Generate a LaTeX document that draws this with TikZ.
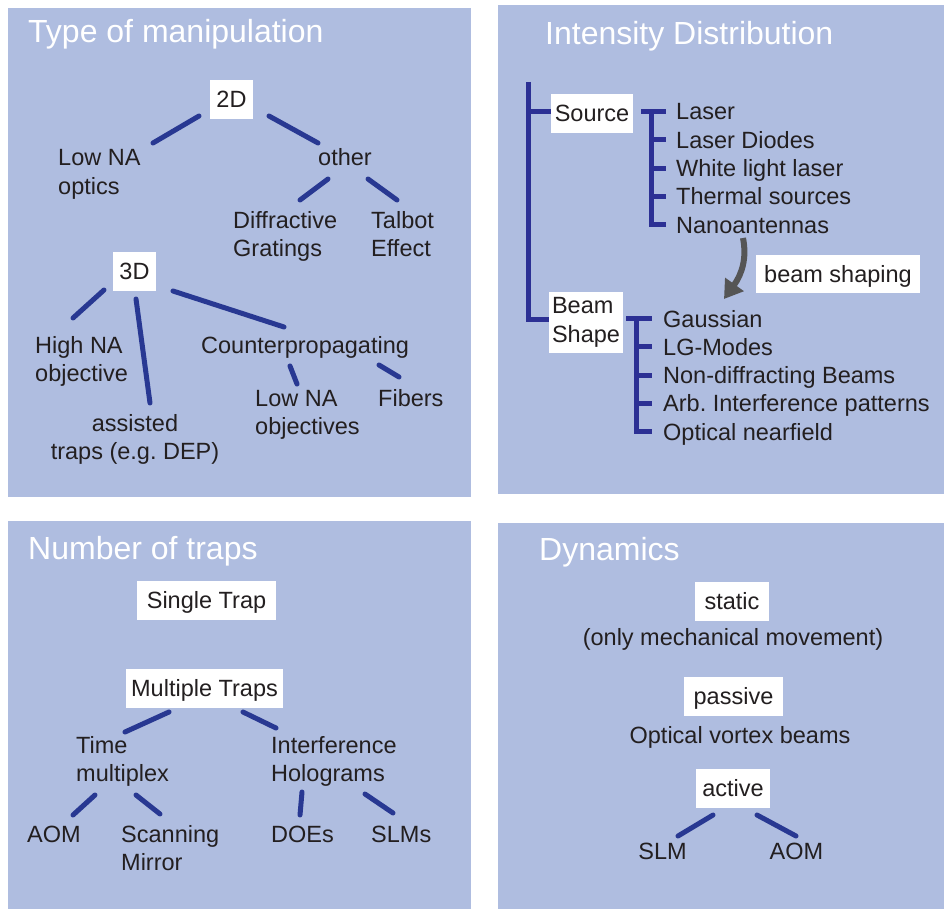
\documentclass[tikz,border=0pt]{standalone}
\usepackage{fontspec}
\setmainfont{Liberation Sans}
\usetikzlibrary{arrows.meta}
\frenchspacing

\definecolor{panelbg}{RGB}{175,189,224}
\definecolor{treeline}{RGB}{40,56,146}
\definecolor{bracketline}{RGB}{44,48,148}
\definecolor{textdark}{RGB}{35,31,32}
\definecolor{arrowgray}{RGB}{85,85,85}

\tikzset{
  panel/.style={fill=panelbg, draw=none},
  paneltitle/.style={anchor=base west, inner sep=0pt, text=white,
    font=\fontsize{32}{38}\selectfont},
  % multi-line labels are placed by the baseline of their last line
  lbl/.style={anchor=base west, inner sep=0pt, text=textdark, align=left,
    font=\fontsize{23.5}{28.3}\selectfont},
  clbl/.style={anchor=base, inner sep=0pt, text=textdark, align=center,
    font=\fontsize{23.5}{28.3}\selectfont},
  wbox/.style={fill=white, inner sep=0pt, text=textdark, align=center,
    text height=16.5pt, text depth=0pt, minimum height=39pt,
    font=\fontsize{23.5}{28.3}\selectfont},
  wboxtwo/.style={fill=white, inner sep=0pt, text=textdark, align=left,
    font=\fontsize{23.5}{28.3}\selectfont},
  link/.style={treeline, line width=5pt, line cap=round},
  brk/.style={bracketline, line width=5pt, line cap=butt, line join=miter},
  bendarrow/.style={arrowgray, line width=6pt,
    -{Triangle[width=22pt,length=18pt]}},
}

\begin{document}
\begin{tikzpicture}[x=1pt,y=-1pt]
\useasboundingbox (0,0) rectangle (944,909);
\fill[white] (0,0) rectangle (944,909);

% ---------------- Type of manipulation ----------------
\fill[panel] (8,8) rectangle (471,497);
\node[paneltitle] (t1) at (28,43) {Type of manipulation};

\node[wbox, minimum width=43pt] (n2d) at (231.5,99.5) {2D};
\node[lbl] (lowna) at (58,194.3) {Low NA\\optics};
\node[lbl] (other) at (318,166) {other};
\node[lbl] (diffr) at (233,256.3) {Diffractive\\Gratings};
\node[lbl] (talbot) at (371,256.3) {Talbot\\Effect};

\node[wbox, minimum width=43pt] (n3d) at (134.5,271.5) {3D};
\node[lbl] (highna) at (35,381.3) {High NA\\objective};
\node[clbl] (assisted) at (135,459.3) {assisted\\traps (e.g. DEP)};
\node[lbl] (counter) at (201,353) {Counterpropagating};
\node[lbl] (lowobj) at (255,434.3) {Low NA\\objectives};
\node[lbl] (fibers) at (378,406) {Fibers};

\coordinate (a1) at (199,116); \coordinate (a2) at (153,143);
\coordinate (b1) at (269,116); \coordinate (b2) at (318,143);
\coordinate (c1) at (328,179); \coordinate (c2) at (300,200);
\coordinate (d1) at (368,179); \coordinate (d2) at (397,200);
\coordinate (e1) at (104,290); \coordinate (e2) at (73,318);
\coordinate (f1) at (136,299); \coordinate (f2) at (150,403);
\coordinate (g1) at (173,291); \coordinate (g2) at (284,327);
\coordinate (h1) at (290,366); \coordinate (h2) at (297,384);
\coordinate (i1) at (379,365); \coordinate (i2) at (399,377);
\draw[link] (a1) -- (a2);
\draw[link] (b1) -- (b2);
\draw[link] (c1) -- (c2);
\draw[link] (d1) -- (d2);
\draw[link] (e1) -- (e2);
\draw[link] (f1) -- (f2);
\draw[link] (g1) -- (g2);
\draw[link] (h1) -- (h2);
\draw[link] (i1) -- (i2);

% ---------------- Intensity Distribution ----------------
\fill[panel] (498,5) rectangle (944,494);
\node[paneltitle] (t2) at (545,45) {Intensity Distribution};

\node[wbox, minimum width=82pt] (source) at (592,113.5) {Source};
\node[wboxtwo, minimum width=74pt, minimum height=61pt] (beamshape) at (586,322.5) {Beam\\Shape};
\node[wbox, minimum width=164pt, minimum height=38pt] (shaping) at (838,274) {beam shaping};

% main bracket joining the two groups
\coordinate (mtop) at (528,82);
\coordinate (mbot) at (528,319);
\draw[brk] (mtop) -- (mbot) -- (beamshape.west |- mbot);
\draw[brk] (528,112) -- (source.west |- 0,112);

% light sources
\node[lbl] (s1) at (676,120) {Laser};
\node[lbl] (s2) at (676,148.3) {Laser Diodes};
\node[lbl] (s3) at (676,176.6) {White light laser};
\node[lbl] (s4) at (676,204.9) {Thermal sources};
\node[lbl] (s5) at (676,233.2) {Nanoantennas};
\draw[brk] (641,111.5) -- (666,111.5);
\draw[brk] (651,111.5) -- (651,224.7) -- (666,224.7);
\draw[brk] (651,139.8) -- (666,139.8);
\draw[brk] (651,168.1) -- (666,168.1);
\draw[brk] (651,196.4) -- (666,196.4);

% beam shapes
\node[lbl] (p1) at (663,327) {Gaussian};
\node[lbl] (p2) at (663,355.3) {LG-Modes};
\node[lbl] (p3) at (663,383.6) {Non-diffracting Beams};
\node[lbl] (p4) at (663,411.9) {Arb. Interference patterns};
\node[lbl] (p5) at (663,440.2) {Optical nearfield};
\draw[brk] (626,318.5) -- (652,318.5);
\draw[brk] (636,318.5) -- (636,431.7) -- (652,431.7);
\draw[brk] (636,346.8) -- (652,346.8);
\draw[brk] (636,375.1) -- (652,375.1);
\draw[brk] (636,403.4) -- (652,403.4);

% curved arrow from the sources to the shapes
\coordinate (arrstart) at (743,238);
\coordinate (arrend) at (724,299);
\draw[bendarrow] (arrstart) .. controls (747,258) and (742,274) .. (arrend);

% ---------------- Number of traps ----------------
\fill[panel] (8,521) rectangle (471,909);
\node[paneltitle] (t3) at (28,559) {Number of traps};

\node[wbox, minimum width=139pt] (single) at (206.5,600.5) {Single Trap};
\node[wbox, minimum width=157pt] (multiple) at (204.5,688.5) {Multiple Traps};
\node[lbl] (time) at (76,781.3) {Time\\multiplex};
\node[lbl] (interf) at (271,781.3) {Interference\\Holograms};
\node[lbl] (aomA) at (27,842) {AOM};
\node[lbl] (scan) at (121,870.3) {Scanning\\Mirror};
\node[lbl] (does) at (271,842) {DOEs};
\node[lbl] (slms) at (371,842) {SLMs};

\coordinate (j1) at (169,712); \coordinate (j2) at (125,732);
\coordinate (k1) at (243,712); \coordinate (k2) at (276,728);
\coordinate (l1) at (95,795);  \coordinate (l2) at (73,815);
\coordinate (m1) at (136,795); \coordinate (m2) at (160,814);
\coordinate (o1) at (302,792); \coordinate (o2) at (300,815);
\coordinate (q1) at (365,794); \coordinate (q2) at (393,813);
\draw[link] (j1) -- (j2);
\draw[link] (k1) -- (k2);
\draw[link] (l1) -- (l2);
\draw[link] (m1) -- (m2);
\draw[link] (o1) -- (o2);
\draw[link] (q1) -- (q2);

% ---------------- Dynamics ----------------
\fill[panel] (498,523) rectangle (944,909);
\node[paneltitle] (t4) at (539,560) {Dynamics};

\node[wbox, minimum width=74pt] (static) at (732,601.5) {static};
\node[clbl] (mech) at (733,645) {(only mechanical movement)};
\node[wbox, minimum width=99pt] (passive) at (733.5,696.5) {passive};
\node[clbl] (vortex) at (740,743) {Optical vortex beams};
\node[wbox, minimum width=74pt] (active) at (733,788.5) {active};
\node[clbl] (slm) at (662.5,859) {SLM};
\node[clbl] (aomB) at (796.5,859) {AOM};

\coordinate (r1) at (713,815); \coordinate (r2) at (678,836);
\coordinate (u1) at (757,815); \coordinate (u2) at (796,836);
\draw[link] (r1) -- (r2);
\draw[link] (u1) -- (u2);
\end{tikzpicture}
\end{document}
